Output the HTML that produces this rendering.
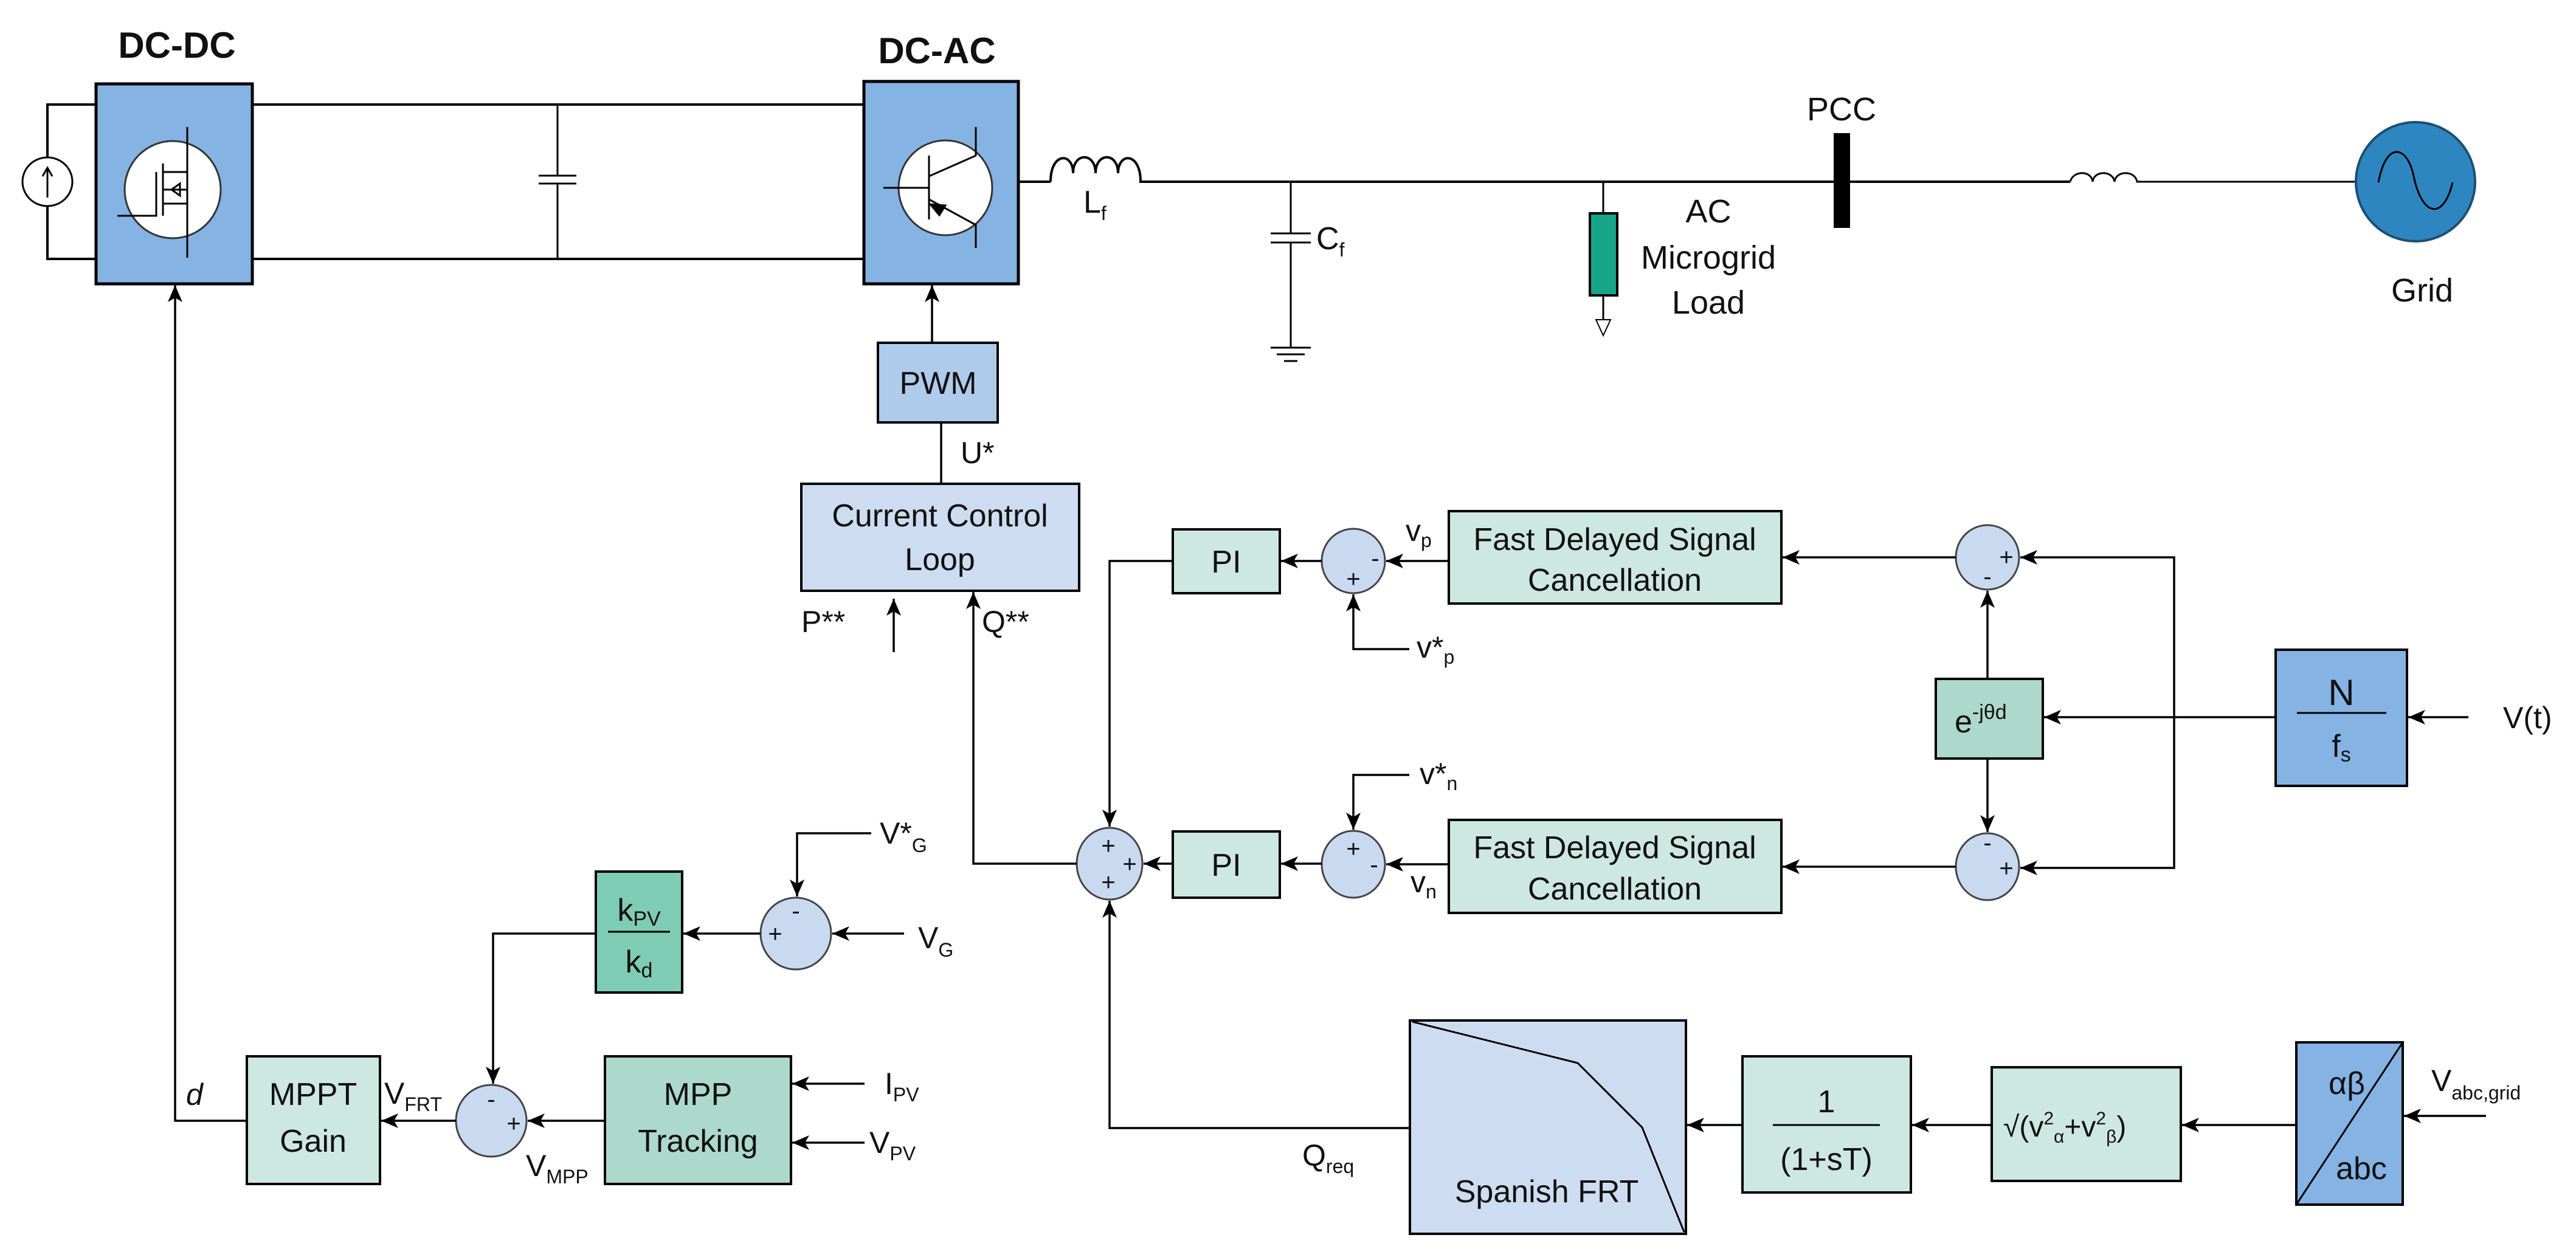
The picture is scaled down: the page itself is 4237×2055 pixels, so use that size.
<!DOCTYPE html>
<html><head><meta charset="utf-8"><style>
html,body{margin:0;padding:0;background:#fff}
svg{display:block}
text{font-family:"Liberation Sans",Arial,sans-serif;fill:#111}
</style></head><body>
<svg width="4237" height="2055" viewBox="0 0 4237 2055" xmlns="http://www.w3.org/2000/svg">
<defs>
<marker id="a" markerUnits="userSpaceOnUse" markerWidth="30" markerHeight="30" refX="28" refY="12" orient="auto">
<path d="M0,0 L28,12 L0,24 L7,12 Z" fill="#000"/>
</marker>
</defs>
<g stroke="#000" stroke-width="4" fill="none">
<path d="M158,172 H78 V259 M78,339 V426 H158"/>
<ellipse cx="78" cy="299" rx="41" ry="40" stroke-width="3" fill="#fff"/>
<path d="M78,325 V278 M70,290 L78,276 L86,290" stroke-width="3"/>
<path d="M415,172 H1421 M415,426 H1421"/>
<path d="M917,172 V289 M917,302 V426 M886,289 H948 M886,302 H948" stroke-width="3"/>
</g>
<rect x="158" y="138" width="257" height="329" fill="#85b3e3" stroke="#000" stroke-width="5"/>
<text x="291" y="95" font-size="60" font-weight="bold" text-anchor="middle">DC-DC</text>
<ellipse cx="284" cy="312" rx="79" ry="80" fill="#fff" stroke="#333" stroke-width="3"/>
<g stroke="#000" stroke-width="3" fill="none">
<path d="M308,209 V424 M193,355 H257 V283 M268,269 V355 M268,283 H308 M268,312 H308 M268,335 H308 M282,312 L296,302 V322 Z"/>
</g>
<rect x="1421" y="134" width="254" height="333" fill="#85b3e3" stroke="#000" stroke-width="5"/>
<text x="1541" y="104" font-size="60" font-weight="bold" text-anchor="middle">DC-AC</text>
<ellipse cx="1555" cy="309" rx="77" ry="78" fill="#fff" stroke="#333" stroke-width="3"/>
<g stroke="#000" stroke-width="3" fill="none">
<path d="M1528,256 V361 M1453,309 H1528 M1605,209 V256 L1528,290 M1528,328 L1605,370 V408"/>
<path d="M1530,336 L1555,338 L1545,354 Z" fill="#000"/>
</g>
<g stroke="#000" stroke-width="4" fill="none">
<path d="M1675,299 H1728 M1728,299 C1728,250 1765,250 1765,285 C1765,250 1802,250 1802,285 C1802,250 1839,250 1839,285 C1839,250 1876,250 1876,299 H3405"/>
<path d="M3405,299 C3410,280 3440,280 3442,299 C3444,280 3475,280 3478,299 C3480,280 3512,280 3515,299 H3875" stroke-width="3"/>
<path d="M2123,299 V384 M2123,399 V572 M2090,384 H2156 M2090,399 H2156 M2090,572 H2156 M2100,583 H2146 M2112,594 H2134" stroke-width="3"/>
<path d="M2637,299 V351 M2637,486 V526" stroke-width="3"/>
<path d="M2625,526 L2649,526 L2637,552 Z" stroke-width="2" fill="#fff"/>
</g>
<text x="1782" y="350" font-size="52">L<tspan font-size="32" dy="12">f</tspan></text>
<text x="2165" y="410" font-size="52">C<tspan font-size="32" dy="12">f</tspan></text>
<rect x="2615" y="351" width="45" height="135" fill="#17a589" stroke="#000" stroke-width="4"/>
<text font-size="54" text-anchor="middle"><tspan x="2810" y="366">AC</tspan><tspan x="2810" y="442">Microgrid</tspan><tspan x="2810" y="516">Load</tspan></text>
<rect x="3016" y="219" width="27" height="156" fill="#000"/>
<text x="3029" y="198" font-size="54" text-anchor="middle">PCC</text>
<circle cx="3973" cy="299" r="98" fill="#2e86c1" stroke="#1b4f72" stroke-width="4"/>
<path d="M3912,300 C3925,230 3960,240 3970,290 C3985,360 4020,360 4034,300" stroke="#000" stroke-width="3" fill="none"/>
<text x="3984" y="496" font-size="54" text-anchor="middle">Grid</text>

<g stroke="#000" stroke-width="4">
<rect x="1444" y="564" width="197" height="131" fill="#afcbeb"/>
<rect x="1318" y="796" width="457" height="176" fill="#cddcf1"/>
<rect x="1929" y="871" width="176" height="105" fill="#cde8e0"/>
<rect x="1929" y="1368" width="176" height="109" fill="#cde8e0"/>
<rect x="2383" y="841" width="547" height="152" fill="#cde8e0"/>
<rect x="2383" y="1349" width="547" height="153" fill="#cde8e0"/>
<rect x="3184" y="1117" width="176" height="131" fill="#acd9cb"/>
<rect x="3743" y="1069" width="216" height="224" fill="#85b3e3"/>
<rect x="2319" y="1679" width="454" height="351" fill="#cddcf1"/>
<rect x="2866" y="1738" width="277" height="224" fill="#cde8e0"/>
<rect x="3276" y="1756" width="311" height="187" fill="#cde8e0"/>
<rect x="3777" y="1715" width="175" height="267" fill="#85b3e3"/>
<rect x="406" y="1738" width="219" height="210" fill="#cde8e0"/>
<rect x="995" y="1738" width="306" height="210" fill="#acd9cb"/>
<rect x="980" y="1434" width="142" height="199" fill="#7fccb5"/>
</g>
<g stroke="#444" stroke-width="3" fill="#c9daf0">
<ellipse cx="2226" cy="923" rx="52" ry="53"/>
<ellipse cx="3269" cy="917" rx="52" ry="53"/>
<ellipse cx="2226" cy="1422" rx="52" ry="55"/>
<ellipse cx="3269" cy="1426" rx="52" ry="55"/>
<ellipse cx="1825" cy="1421" rx="54" ry="59"/>
<ellipse cx="808" cy="1844" rx="58" ry="59"/>
<ellipse cx="1309" cy="1536" rx="58" ry="59"/>
</g>
<polyline points="2323,1681 2595,1749 2701,1855 2770,2027" stroke="#000" stroke-width="3" fill="none"/>
<line x1="3777" y1="1982" x2="3952" y2="1715" stroke="#000" stroke-width="3"/>

<g stroke="#000" stroke-width="3.5" fill="none" marker-end="url(#a)">
<path d="M1533,564 V469"/>
<path d="M1470,1073 V985"/>
<path d="M1771,1421 H1601 V974"/>
<path d="M2174,923 H2107"/>
<path d="M1929,923 H1825 V1360"/>
<path d="M2383,923 H2280"/>
<path d="M2318,1068 H2226 V978"/>
<path d="M3217,917 H2932"/>
<path d="M3576,1180 V917 H3323"/>
<path d="M3576,1180 V1428 H3323"/>
<path d="M3269,1117 V972"/>
<path d="M3269,1248 V1369"/>
<path d="M3743,1180 H3362"/>
<path d="M4060,1180 H3961"/>
<path d="M3217,1426 H2932"/>
<path d="M2383,1422 H2280"/>
<path d="M2318,1275 H2226 V1365"/>
<path d="M2174,1421 H2107"/>
<path d="M1929,1421 H1881"/>
<path d="M2319,1856 H1825 V1482"/>
<path d="M2866,1851 H2775"/>
<path d="M3276,1851 H3145"/>
<path d="M3777,1851 H3589"/>
<path d="M4089,1836 H3954"/>
<path d="M406,1844 H288 V469"/>
<path d="M750,1844 H627"/>
<path d="M995,1844 H868"/>
<path d="M1422,1783 H1303"/>
<path d="M1422,1880 H1303"/>
<path d="M980,1536 H811 V1783"/>
<path d="M1251,1536 H1124"/>
<path d="M1433,1371 H1311 V1475"/>
<path d="M1487,1536 H1369"/>
</g>
<line x1="1548" y1="796" x2="1548" y2="695" stroke="#000" stroke-width="3.5"/>

<g font-size="52" text-anchor="middle">
<text x="1543" y="648">PWM</text>
<text x="1546" y="866">Current Control</text>
<text x="1546" y="938">Loop</text>
<text x="2017" y="942">PI</text>
<text x="2017" y="1441">PI</text>
<text x="2656" y="905">Fast Delayed Signal</text>
<text x="2656" y="972">Cancellation</text>
<text x="2656" y="1412">Fast Delayed Signal</text>
<text x="2656" y="1480">Cancellation</text>
<text x="2544" y="1978">Spanish FRT</text>
<text x="515" y="1818">MPPT</text>
<text x="515" y="1895">Gain</text>
<text x="1148" y="1818">MPP</text>
<text x="1148" y="1895">Tracking</text>
<text x="3004" y="1830">1</text>
<text x="3004" y="1925">(1+sT)</text>
<text x="3851" y="1160" font-size="60">N</text>
<text x="3851" y="1245">f<tspan font-size="34" dy="8">s</tspan></text>
<text x="3860" y="1800">αβ</text>
<text x="3884" y="1940">abc</text>
<text x="1051" y="1515">k<tspan font-size="34" dy="8">PV</tspan></text>
<text x="1051" y="1600">k<tspan font-size="34" dy="8">d</tspan></text>
</g>
<g stroke="#000" stroke-width="3">
<line x1="2916" y1="1851" x2="3092" y2="1851"/>
<line x1="3778" y1="1173" x2="3925" y2="1173"/>
<line x1="1000" y1="1533" x2="1102" y2="1533"/>
</g>
<text x="3215" y="1205" font-size="52">e<tspan font-size="34" dy="-22">-jθd</tspan></text>
<text x="3295" y="1870" font-size="48">√(v<tspan font-size="30" dy="-20">2</tspan><tspan font-size="30" dy="30">α</tspan><tspan dy="-10">+v</tspan><tspan font-size="30" dy="-20">2</tspan><tspan font-size="30" dy="30">β</tspan><tspan dy="-10">)</tspan></text>

<g font-size="50">
<text x="1580" y="762">U*</text>
<text x="1318" y="1040">P**</text>
<text x="1615" y="1040">Q**</text>
<text x="2312" y="890">v<tspan font-size="32" dy="10">p</tspan></text>
<text x="2330" y="1082">v*<tspan font-size="32" dy="10">p</tspan></text>
<text x="2335" y="1290">v*<tspan font-size="32" dy="10">n</tspan></text>
<text x="2320" y="1468">v<tspan font-size="32" dy="10">n</tspan></text>
<text x="4117" y="1198">V(t)</text>
<text x="3999" y="1795">V<tspan font-size="32" dy="14">abc,grid</tspan></text>
<text x="2142" y="1918">Q<tspan font-size="32" dy="12">req</tspan></text>
<text x="306" y="1818" font-style="italic">d</text>
<text x="632" y="1816">V<tspan font-size="32" dy="12">FRT</tspan></text>
<text x="865" y="1935">V<tspan font-size="32" dy="12">MPP</tspan></text>
<text x="1455" y="1800">I<tspan font-size="32" dy="12">PV</tspan></text>
<text x="1430" y="1897">V<tspan font-size="32" dy="12">PV</tspan></text>
<text x="1447" y="1388">V*<tspan font-size="32" dy="14">G</tspan></text>
<text x="1510" y="1560">V<tspan font-size="32" dy="14">G</tspan></text>
</g>
<g font-size="40" text-anchor="middle">
<text x="2262" y="932">-</text><text x="2226" y="966">+</text>
<text x="3300" y="930">+</text><text x="3269" y="962">-</text>
<text x="2226" y="1410">+</text><text x="2260" y="1436">-</text>
<text x="3269" y="1400">-</text><text x="3300" y="1442">+</text>
<text x="1823" y="1405">+</text><text x="1858" y="1435">+</text><text x="1823" y="1465">+</text>
<text x="808" y="1822">-</text><text x="845" y="1862">+</text>
<text x="1309" y="1512">-</text><text x="1275" y="1550">+</text>
</g>
</svg>
</body></html>
